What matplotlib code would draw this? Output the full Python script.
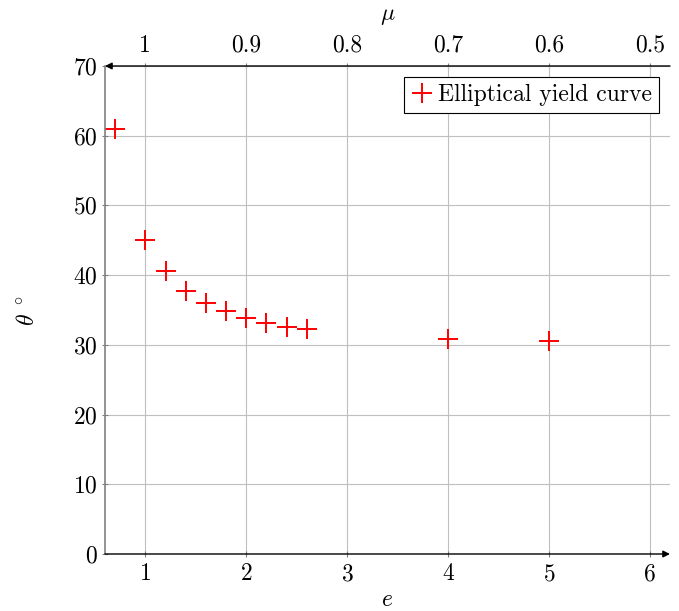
import numpy as np
import matplotlib
matplotlib.use("Agg")
import matplotlib.pyplot as plt

# data
e_vals = [0.7, 1.0, 1.2, 1.4, 1.6, 1.8, 2.0, 2.2, 2.4, 2.6, 4.0, 5.0]
theta_vals = [60.9, 45.0, 40.6, 37.7, 36.0, 34.8, 33.8, 33.1, 32.6, 32.3, 30.8, 30.6]
mu_ticks = [1, 0.9, 0.8, 0.7, 0.6, 0.5]
mu_labels = ["1", "0.9", "0.8", "0.7", "0.6", "0.5"]

plt.rcParams['font.family'] = 'serif'
plt.rcParams['font.serif'] = ['cmr10']
plt.rcParams['mathtext.fontset'] = 'cm'
plt.rcParams['axes.formatter.use_mathtext'] = True

fs = 17

fig = plt.figure(figsize=(6.79, 6.11), dpi=100)
ax = fig.add_axes([105/679, 57/611, 565/679, 488/611])

ax.plot(e_vals, theta_vals, linestyle='none', marker='+', color='red',
        markersize=14, markeredgewidth=1.4, label='Elliptical yield curve')

ax.set_xlim(0.6, 6.2)
ax.set_ylim(0, 70)
ax.set_xticks([1, 2, 3, 4, 5, 6])
ax.set_yticks(np.arange(0, 71, 10))
ax.grid(True, color='#bfbfbf', linewidth=0.8)
ax.set_axisbelow(True)

for s in ['top', 'bottom', 'right']:
    ax.spines[s].set_visible(False)
ax.spines['left'].set_color('#808080')
ax.spines['left'].set_linewidth(1.2)

ax.tick_params(axis='both', labelsize=fs, direction='inout', length=5,
               color='#808080', width=0.8)
ax.tick_params(axis='x', pad=4)
ax.tick_params(axis='y', pad=3)

# arrows for bottom and top axis lines
ax.annotate('', xy=(1.0, 0), xytext=(0, 0), xycoords='axes fraction',
            arrowprops=dict(arrowstyle='-|>', color='black', lw=1.0,
                            mutation_scale=10, shrinkA=0, shrinkB=0))
ax.annotate('', xy=(0, 1.0), xytext=(1, 1.0), xycoords='axes fraction',
            arrowprops=dict(arrowstyle='-|>', color='black', lw=1.0,
                            mutation_scale=10, shrinkA=0, shrinkB=0))

sec = ax.secondary_xaxis('top', functions=(lambda e: 1.1 - 0.1*e,
                                            lambda m: (1.1 - m)/0.1))
sec.set_xticks(mu_ticks)
sec.set_xticklabels(mu_labels)
sec.spines['top'].set_visible(False)
sec.tick_params(labelsize=fs, direction='inout', length=5, color='#808080', width=0.8, pad=4)
sec.set_xlabel(r'$\mu$', fontsize=fs, labelpad=11)

ax.set_xlabel(r'$e$', fontsize=fs, labelpad=3)
ax.set_ylabel(r'$\theta\ ^\circ$', fontsize=fs, labelpad=24)

leg = ax.legend(loc='upper right', fontsize=fs, fancybox=False, edgecolor='black',
                framealpha=1, handlelength=0.9, handletextpad=0.25,
                borderaxespad=0.45, borderpad=0.3)
leg.get_frame().set_linewidth(0.8)

fig.savefig('out.png', dpi=100)
